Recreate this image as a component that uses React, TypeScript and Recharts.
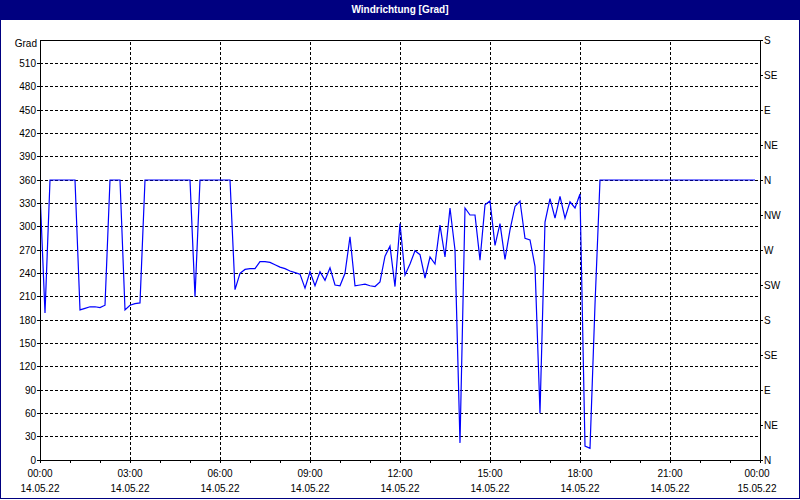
import React from 'react';
import { LineChart, Line, XAxis, YAxis, ReferenceLine } from 'recharts';

// wind direction samples, one every 10 minutes from 14.05.22 00:00
const stepMinutes = 10;
const directionValues: number[] = [
  345, 189, 360, 360, 360, 360, 360, 360, 193, 195, 197, 197, 196, 199, 360, 360, 360, 193, 199, 201, 202,
  360, 360, 360, 360, 360, 360, 360, 360, 360, 360,
  210,
  360, 360, 360, 360, 360, 360, 360,
  219,
  240, 245, 246, 246, 255, 255, 254, 251, 248, 246, 243, 241, 239,
  221, 242, 224, 242, 231, 247, 225, 224, 240, 287,
  224, 225, 226, 224, 223, 229, 262, 275, 223, 304,
  238, 252, 269, 264, 234, 261, 252, 302, 261, 324,
  270, 22, 324, 315, 315, 257, 328, 333, 276, 304,
  258, 296, 326, 333, 285, 283, 249, 60, 306, 336,
  311, 339, 311, 332, 324, 342, 18, 15, 200,
  360, 360, 360, 360, 360, 360, 360, 360, 360, 360, 360, 360, 360, 360, 360, 360,
  360, 360, 360, 360, 360, 360, 360, 360, 360, 360, 360, 360, 360, 360, 360, 360,
];

const hourTicks = [0, 1, 2, 3, 4, 5, 6, 7, 8, 9, 10, 11, 12, 13, 14, 15, 16, 17, 18, 19, 20, 21, 22, 23, 24];
const majorHours = [3, 6, 9, 12, 15, 18, 21];
const timeLabels = ['00:00', '03:00', '06:00', '09:00', '12:00', '15:00', '18:00', '21:00', '00:00'];
const dateLabels = ['14.05.22', '14.05.22', '14.05.22', '14.05.22', '14.05.22', '14.05.22', '14.05.22', '14.05.22', '15.05.22'];
const degreeTicks = [0, 30, 60, 90, 120, 150, 180, 210, 240, 270, 300, 330, 360, 390, 420, 450, 480, 510];
const gridDegrees = [30, 60, 90, 120, 150, 180, 210, 240, 270, 300, 330, 360, 390, 420, 450, 480, 510];
const compassTicks = [0, 45, 90, 135, 180, 225, 270, 315, 360, 405, 450, 495, 540];
const compassLabels = ['N', 'NE', 'E', 'SE', 'S', 'SW', 'W', 'NW', 'N', 'NE', 'E', 'SE', 'S'];

const data = directionValues.map((v, i) => ({ h: (i * stepMinutes) / 60, v }));

const FONT = '"Liberation Sans", Arial, sans-serif';

const XTick = (props: any) => {
  const { x, y, payload } = props;
  const h = payload.value as number;
  if (h % 3 !== 0) return <g />;
  const idx = h / 3;
  const shift = idx === 8 ? -3 : 0;
  return (
    <g>
      <text x={x + shift} y={y + 12} textAnchor="middle" fontFamily={FONT} fontSize={10} fill="#000">
        {timeLabels[idx]}
      </text>
      <text x={x + shift} y={y + 27} textAnchor="middle" fontFamily={FONT} fontSize={10} fill="#000">
        {dateLabels[idx]}
      </text>
    </g>
  );
};

export default function App() {
  return (
    <div style={{ position: 'absolute', left: 0, top: 0, width: 800, height: 500, background: '#fff', overflow: 'hidden' }}>
      <LineChart
        width={800}
        height={500}
        data={data}
        margin={{ top: 40, right: 0, bottom: 0, left: 0 }}
        style={{ fontFamily: FONT }}
      >
        <XAxis
          dataKey="h"
          type="number"
          domain={[0, 24]}
          ticks={hourTicks}
          interval={0}
          height={40}
          tickSize={3}
          tickMargin={2}
          tick={<XTick />}
          axisLine={{ stroke: '#000', shapeRendering: 'crispEdges' }}
          tickLine={{ stroke: '#000', shapeRendering: 'crispEdges' }}
          allowDataOverflow
        />
        <YAxis
          yAxisId="left"
          orientation="left"
          domain={[0, 540]}
          ticks={degreeTicks}
          interval={0}
          width={40}
          tickSize={3}
          tickMargin={1}
          tick={{ fontSize: 10, fill: '#000', fontFamily: FONT }}
          axisLine={{ stroke: '#000', shapeRendering: 'crispEdges' }}
          tickLine={{ stroke: '#000', shapeRendering: 'crispEdges' }}
          allowDataOverflow
        />
        <YAxis
          yAxisId="right"
          orientation="right"
          domain={[0, 540]}
          ticks={compassTicks}
          interval={0}
          width={40}
          tickSize={3}
          tickMargin={1}
          tickFormatter={(v: number) => compassLabels[compassTicks.indexOf(v)]}
          tick={{ fontSize: 10, fill: '#000', fontFamily: FONT }}
          axisLine={{ stroke: '#000', shapeRendering: 'crispEdges' }}
          tickLine={{ stroke: '#000', shapeRendering: 'crispEdges' }}
          allowDataOverflow
        />
        {gridDegrees.map((d) => (
          <ReferenceLine
            key={'h' + d}
            yAxisId="left"
            y={d}
            stroke="#000"
            strokeDasharray="3 2"
            shapeRendering="crispEdges"
          />
        ))}
        {majorHours.map((h) => (
          <ReferenceLine
            key={'v' + h}
            yAxisId="left"
            x={h}
            stroke="#000"
            strokeDasharray="3 2"
            shapeRendering="crispEdges"
          />
        ))}
        <ReferenceLine yAxisId="left" y={540} stroke="#000" shapeRendering="crispEdges" />
        <Line
          yAxisId="left"
          type="linear"
          dataKey="v"
          stroke="#0000ff"
          strokeWidth={1.2}
          dot={false}
          isAnimationActive={false}
        />
      </LineChart>
      <div
        style={{
          position: 'absolute', left: 0, top: 0, width: 800, height: 499, boxSizing: 'border-box',
          border: '1px solid #000080', pointerEvents: 'none',
        }}
      />
      <div
        style={{
          position: 'absolute', left: 0, top: 0, width: 800, height: 20, background: '#000080',
          color: '#fff', fontFamily: FONT, fontWeight: 'bold', fontSize: 10, lineHeight: '19px',
          textAlign: 'center',
        }}
      >
        Windrichtung [Grad]
      </div>
      <div
        style={{
          position: 'absolute', left: 0, top: 38, width: 37, textAlign: 'right', fontFamily: FONT,
          fontSize: 10, lineHeight: '12px', color: '#000',
        }}
      >
        Grad
      </div>
    </div>
  );
}
